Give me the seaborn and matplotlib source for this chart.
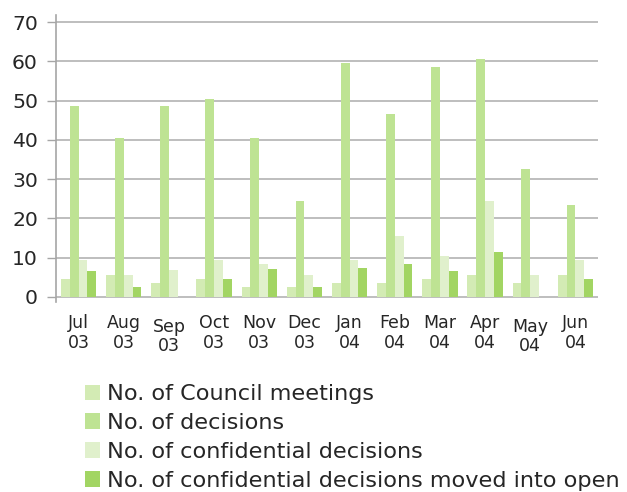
import pandas as pd
import matplotlib
matplotlib.use("Agg")
import matplotlib.pyplot as plt
import matplotlib.transforms as mtransforms
import seaborn as sns

# data
months = ["Jul\n03", "Aug\n03", "Sep\n03", "Oct\n03", "Nov\n03", "Dec\n03",
          "Jan\n04", "Feb\n04", "Mar\n04", "Apr\n04", "May\n04", "Jun\n04"]
meetings = [4.5, 5.5, 3.5, 4.5, 2.5, 2.5, 3.5, 3.5, 4.5, 5.5, 3.5, 5.5]
decisions = [48.5, 40.5, 48.5, 50.5, 40.5, 24.5, 59.5, 46.5, 58.5, 60.5, 32.5, 23.5]
confidential = [9.5, 5.5, 6.8, 9.5, 8.5, 5.5, 9.5, 15.5, 10.5, 24.3, 5.5, 9.5]
moved_open = [6.5, 2.5, 0, 4.5, 7.2, 2.5, 7.4, 8.5, 6.6, 11.5, 0, 4.5]

series_names = ["No. of Council meetings", "No. of decisions",
                "No. of confidential decisions",
                "No. of confidential decisions moved into open"]
colors = ["#d3ebb4", "#bee393", "#e0f0cc", "#a2d563"]

rows = []
for name, vals in zip(series_names, [meetings, decisions, confidential, moved_open]):
    for m, v in zip(months, vals):
        rows.append({"month": m, "series": name, "value": v})
df = pd.DataFrame(rows)

sns.set_style("white")
plt.rcParams["font.family"] = ["DejaVu Sans"]

fig = plt.figure(figsize=(6.27, 4.92), dpi=100)
ax = fig.add_axes([56 / 627, 190 / 492, 542 / 627, (477 - 190) / 492])

sns.barplot(data=df, x="month", y="value", hue="series", hue_order=series_names,
            palette=colors, width=0.78, errorbar=None, saturation=1,
            edgecolor="none", linewidth=0, ax=ax, zorder=3)

ax.set_ylim(-1.3, 71.8)
ax.set_xlim(-0.5, 11.5)
ax.set_yticks(range(0, 71, 10))
ax.yaxis.grid(True, color="#b3b3b3", linewidth=1.2, zorder=0)
ax.set_axisbelow(True)
for s in ["top", "right", "bottom"]:
    ax.spines[s].set_visible(False)
ax.spines["left"].set_color("#a6a6a6")
ax.spines["left"].set_linewidth(1.2)
ax.tick_params(axis="y", direction="out", length=6.5, width=1, color="#a6a6a6",
               labelsize=14.7, pad=6.5, left=True)
ax.tick_params(axis="x", length=0, labelsize=12.5, pad=9)
for lab in ax.get_xticklabels():
    lab.set_linespacing(1.1)
    # Sep and May labels sit a little lower in the original
    if lab.get_text().startswith(("Sep", "May")):
        lab.set_transform(lab.get_transform() +
                          mtransforms.ScaledTranslation(0, -2.5 / 72, fig.dpi_scale_trans))
ax.set_xlabel("")
ax.set_ylabel("")

handles, labels = ax.get_legend_handles_labels()
ax.get_legend().remove()
fig.legend(handles, labels, loc="upper left", bbox_to_anchor=(85 / 627, 1 - 384 / 492),
           frameon=False, fontsize=16.1, handlelength=0.67, handleheight=0.67,
           handletextpad=0.3, labelspacing=0.4, borderpad=0, borderaxespad=0)

fig.savefig("out.png", dpi=100)
